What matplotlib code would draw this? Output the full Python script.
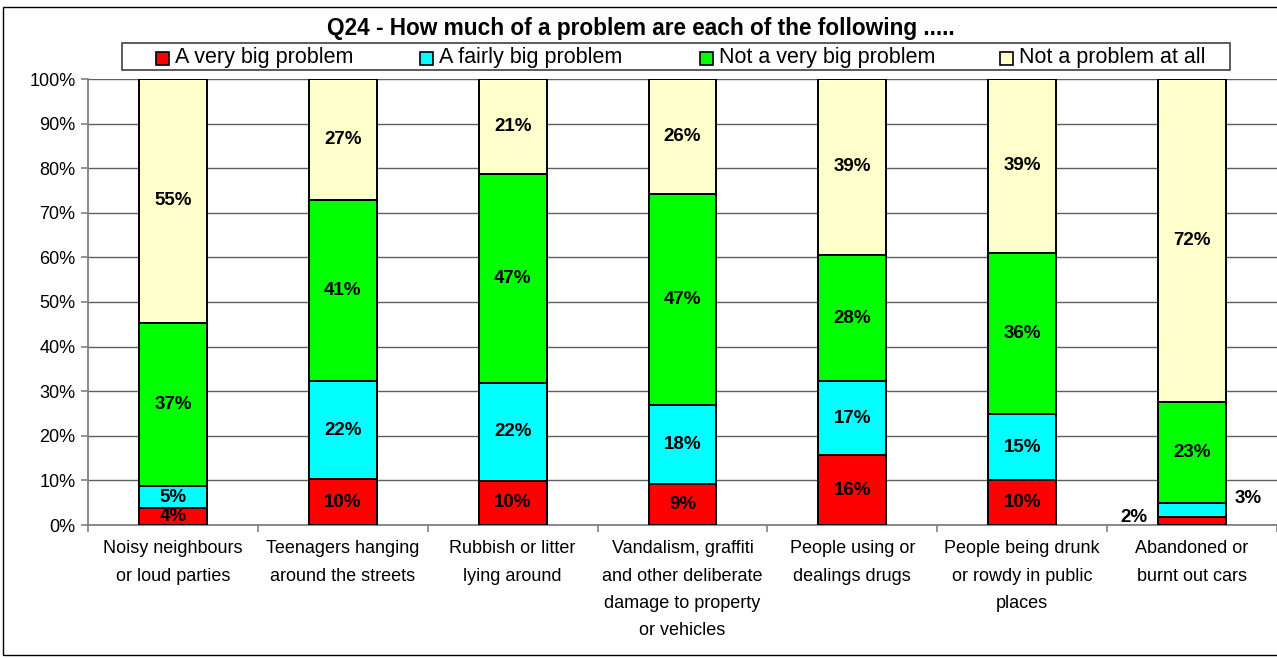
import matplotlib.pyplot as plt
from matplotlib.patches import Rectangle

plt.rcParams['font.family'] = ['Liberation Sans', 'DejaVu Sans']

# data (percent of respondents)
categories = [
    "Noisy neighbours\nor loud parties",
    "Teenagers hanging\naround the streets",
    "Rubbish or litter\nlying around",
    "Vandalism, graffiti\nand other deliberate\ndamage to property\nor vehicles",
    "People using or\ndealings drugs",
    "People being drunk\nor rowdy in public\nplaces",
    "Abandoned or\nburnt out cars",
]
series_names = ["A very big problem", "A fairly big problem",
                "Not a very big problem", "Not a problem at all"]
very_big = [3.8, 10.3, 9.9, 9.2, 15.6, 10.0, 1.9]
fairly_big = [4.9, 22.0, 22.0, 17.8, 16.6, 14.8, 3.0]
not_very_big = [36.6, 40.6, 46.9, 47.3, 28.4, 36.2, 22.7]
not_at_all = [54.7, 27.1, 21.2, 25.7, 39.4, 39.0, 72.4]

colors = ["#FF0000", "#00FFFF", "#00FF00", "#FFFFCC"]
series = [very_big, fairly_big, not_very_big, not_at_all]

W, H = 1277, 658
fig = plt.figure(figsize=(W / 100, H / 100), dpi=100)
ax = fig.add_axes([88 / W, 1 - 525 / H, 1 - 88 / W, (525 - 79) / H])

x = list(range(len(categories)))
bar_w = 0.4
bottom = [0.0] * len(categories)
for vals, col, name in zip(series, colors, series_names):
    ax.bar(x, vals, bar_w, bottom=bottom, color=col, edgecolor="black",
           linewidth=1.4, label=name, zorder=3)
    for i, v in enumerate(vals):
        lbl = f"{round(v)}%"
        if i == 6 and col == colors[0]:
            # too small: put outside on the left
            ax.text(i - bar_w / 2 - 0.06, bottom[i] + v / 2 + 0.8, lbl,
                    ha="right", va="center", fontsize=13.5, fontweight="bold")
        elif i == 6 and col == colors[1]:
            ax.text(i + bar_w / 2 + 0.05, bottom[i] + v / 2 + 2.5, lbl,
                    ha="left", va="center", fontsize=13.5, fontweight="bold")
        else:
            ax.text(i, bottom[i] + v / 2, lbl, ha="center", va="center",
                    fontsize=13.5, fontweight="bold", zorder=4)
    bottom = [b0 + v for b0, v in zip(bottom, vals)]

ax.set_ylim(0, 100)
ax.set_xlim(-0.5, len(categories) - 0.5)
ax.set_yticks(range(0, 101, 10))
ax.set_yticklabels([f"{t}%" for t in range(0, 101, 10)], fontsize=13)
ax.yaxis.grid(True, color="#606060", linewidth=1.0, zorder=0)
ax.set_xticks(x)
ax.set_xticklabels(categories, fontsize=13, linespacing=1.8, va="top")
ax.set_xticks([i - 0.5 for i in range(len(categories) + 1)], minor=True)
ax.tick_params(axis="x", which="major", length=0, pad=11)
ax.tick_params(axis="x", which="minor", length=5, color="#808080", width=1.2)
ax.tick_params(axis="y", length=5, color="#808080", width=1.2, pad=4)
for s in ["top", "right"]:
    ax.spines[s].set_visible(False)
for s in ["left", "bottom"]:
    ax.spines[s].set_color("#808080")
    ax.spines[s].set_linewidth(1.3)

fig.text(327 / W, 1 - 29 / H, "Q24 - How much of a problem are each of the following .....",
         ha="left", va="center", fontsize=16.3, fontweight="bold")

# legend laid out like the original (uneven column gaps)
leg_x = [156, 420, 700, 1000]
fig.patches.append(Rectangle((122 / W, 1 - 70 / H), (1230 - 122) / W, 27 / H,
                             transform=fig.transFigure, fill=False,
                             edgecolor="#404040", linewidth=1.2))
for lx, col, name in zip(leg_x, colors, series_names):
    fig.patches.append(Rectangle((lx / W, 1 - 65 / H), 13 / W, 13 / H,
                                 transform=fig.transFigure, facecolor=col,
                                 edgecolor="black", linewidth=1.2))
    fig.text((lx + 19) / W, 1 - 58 / H, name, ha="left", va="center", fontsize=15.5)

# outer chart border
fig.patches.append(Rectangle((3 / W, 3 / H), 1.05, 1 - 10 / H, transform=fig.transFigure,
                             fill=False, edgecolor="black", linewidth=1.0))

fig.savefig("out.png", dpi=100)
